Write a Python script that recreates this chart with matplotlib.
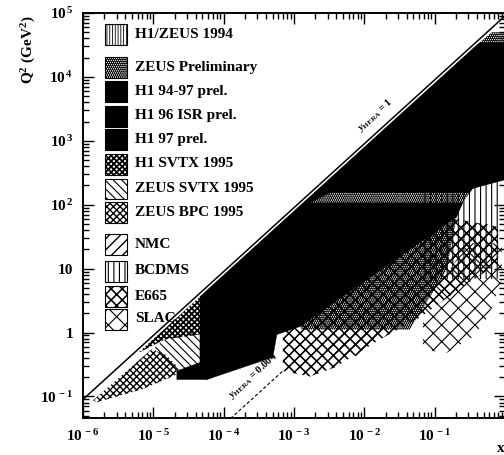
import matplotlib
matplotlib.use("Agg")
import matplotlib.pyplot as plt
from matplotlib.patches import Rectangle
from matplotlib.ticker import FixedLocator, FixedFormatter, LogLocator, NullFormatter

plt.rcParams.update({
    "font.family": ["Liberation Serif", "DejaVu Serif"],
    "font.weight": "bold",
    "mathtext.fontset": "custom",
    "mathtext.rm": "Liberation Serif:bold",
    "mathtext.bf": "Liberation Serif:bold",
    "mathtext.it": "Liberation Serif:italic:bold",
    "hatch.color": "black",
})

# HERA kinematics: Q^2 = s * x * y
S_EP = 9.0e4
Y_KIN = 1.0
Y_LOW = 0.004

X_LIM = (1e-6, 1.0)
Q2_LIM = (0.046, 1e5)

# measured regions of the (x, Q^2) plane, polygon vertices
H1_94_97_X = [1.94e-3, 0.429, 1.0, 1.0, 0.347, 0.314]
H1_94_97_Q2 = [154, 34000, 34000, 246, 180, 154]

H1_97_X = [4.6e-5, 1.94e-3, 3.23e-3, 1.68e-3, 0.25, 0.205, 1.21e-3, 5.7e-4, 5.0e-4, 5.77e-5, 4.6e-5]
H1_97_Q2 = [3.64, 154, 154, 107, 107, 65, 1.24, 0.93, 0.41, 0.184, 0.34]

H1_96_ISR_X = [2.16e-5, 5.77e-5, 1.2e-4, 4.6e-5, 2.16e-5]
H1_96_ISR_Q2 = [0.184, 0.184, 0.26, 0.34, 0.25]

ZEUS_PREL_X = [5e-5, 0.429, 0.65, 1.0, 1.0, 0.347, 0.25, 0.205, 0.148, 0.044, 1.3e-3, 1.21e-3]
ZEUS_PREL_Q2 = [3.96, 34000, 50000, 50000, 250, 180, 107, 65, 9.6, 1.11, 1.11, 1.24]

H1ZEUS_94_X = [3.0e-3, 0.09, 0.25, 0.25]
H1ZEUS_94_Q2 = [190, 5000, 5000, 220]

H1_SVTX_X = [6.0e-6, 4.6e-5, 4.6e-5, 1.46e-5]
H1_SVTX_Q2 = [0.475, 3.64, 0.93, 0.78]

ZEUS_SVTX_X = [9.55e-6, 1.46e-5, 4.6e-5, 4.6e-5, 2.16e-5, 1.46e-5]
ZEUS_SVTX_Q2 = [0.54, 0.78, 1.11, 0.32, 0.25, 0.38]

ZEUS_BPC_X = [1.39e-6, 9.5e-6, 1.5e-5, 2.16e-5, 2.16e-5, 7e-6, 1.58e-6]
ZEUS_BPC_Q2 = [0.087, 0.55, 0.45, 0.30, 0.22, 0.13, 0.081]

NMC_X = [2.8e-3, 8.6e-3, 0.085, 0.6, 0.6, 2.8e-3]
NMC_Q2 = [0.5, 0.42, 3.3, 20, 50, 50]

BCDMS_X = [0.07, 0.85, 0.85, 0.07]
BCDMS_Q2 = [7, 7, 260, 260]

E665_X = [6.94e-4, 1.68e-3, 3.8e-3, 0.0166, 0.0612, 0.3, 0.8, 0.8, 0.2, 6.94e-4]
E665_Q2 = [0.25, 0.205, 0.284, 0.778, 1.71, 6, 12, 45, 60, 60]

SLAC_X = [0.068, 0.148, 0.35, 0.6, 0.9, 0.9, 0.3, 0.068]
SLAC_Q2 = [0.54, 0.48, 0.86, 1.9, 6.7, 25, 25, 2.5]

X_TICKS = [1e-6, 1e-5, 1e-4, 1e-3, 1e-2, 1e-1]
X_TICK_LABELS = [r"$10^{\,-6}$", r"$10^{\,-5}$", r"$10^{\,-4}$",
                 r"$10^{\,-3}$", r"$10^{\,-2}$", r"$10^{\,-1}$"]
Y_TICKS = [1e-1, 1, 10, 1e2, 1e3, 1e4, 1e5]
Y_TICK_LABELS = [r"$10^{\,-1}$", "1", "10", r"$10^{\,2}$", r"$10^{\,3}$",
                 r"$10^{\,4}$", r"$10^{\,5}$"]

# name, x, Q2, hatch, hatch line width, solid fill
REGIONS = [
    ("H1/ZEUS 1994", H1ZEUS_94_X, H1ZEUS_94_Q2, "||||||", 0.6, False),
    ("ZEUS Preliminary", ZEUS_PREL_X, ZEUS_PREL_Q2, "........", 1.5, False),
    ("H1 94-97 prel.", H1_94_97_X, H1_94_97_Q2, None, 0, True),
    ("H1 96 ISR prel.", H1_96_ISR_X, H1_96_ISR_Q2, None, 0, True),
    ("H1 97 prel.", H1_97_X, H1_97_Q2, None, 0, True),
    ("H1 SVTX 1995", H1_SVTX_X, H1_SVTX_Q2, "xxxxxx", 1.3, False),
    ("ZEUS SVTX 1995", ZEUS_SVTX_X, ZEUS_SVTX_Q2, "\\\\\\\\", 0.8, False),
    ("ZEUS BPC 1995", ZEUS_BPC_X, ZEUS_BPC_Q2, "xxxxx", 1.0, False),
    ("NMC", NMC_X, NMC_Q2, "///", 1.0, False),
    ("BCDMS", BCDMS_X, BCDMS_Q2, "|||", 0.8, False),
    ("E665", E665_X, E665_Q2, "xxx", 1.15, False),
    ("SLAC", SLAC_X, SLAC_Q2, "xx", 0.8, False),
]

W, H = 504, 455
fig = plt.figure(figsize=(W / 100, H / 100), dpi=100)
AX_L, AX_R, AX_T, AX_B = 83, 505, 13, 418
ax = fig.add_axes([AX_L / W, 1 - AX_B / H, (AX_R - AX_L) / W, (AX_B - AX_T) / H])
ax.set_xscale("log")
ax.set_yscale("log")
ax.set_xlim(*X_LIM)
ax.set_ylim(*Q2_LIM)


def make_patch_style(artist, hatch, lw):
    if hatch:
        artist.set_hatch(hatch)
        if hasattr(artist, "set_hatch_linewidth"):
            artist.set_hatch_linewidth(lw)


for name, xs, qs, hatch, hlw, solid in REGIONS:
    if solid:
        ax.fill(xs, qs, facecolor="black", edgecolor="black", lw=0.3, zorder=4)
    else:
        with plt.rc_context({"hatch.linewidth": hlw}):
            poly = ax.fill(xs, qs, facecolor="none", edgecolor="black", lw=0, zorder=3)[0]
            make_patch_style(poly, hatch, hlw)

# kinematic limit y = 1
kin_x = list(X_LIM)
ax.plot(kin_x, [S_EP * Y_KIN * x for x in kin_x], color="black", lw=1.1, zorder=5)
ax.text(9.5e-3, 1250, r"$\mathit{y}_{\mathrm{HERA}}$ = 1", rotation=42.3,
        rotation_mode="anchor", ha="left", va="bottom", fontsize=7.5, zorder=6)

# low-y line
low_x = [1.25e-4, 7.0e-4]
ax.plot(low_x, [S_EP * Y_LOW * x for x in low_x], color="black", lw=0.8,
        ls=(0, (3, 2)), zorder=1)
ax.text(1.4e-4, 0.082, r"$\mathit{y}_{\mathrm{HERA}}$ = 0.004", rotation=42.3,
        rotation_mode="anchor", ha="left", va="bottom", fontsize=7.5, zorder=1)

# axes styling
for sp in ax.spines.values():
    sp.set_linewidth(1.4)
ax.xaxis.set_major_locator(FixedLocator(X_TICKS))
ax.xaxis.set_major_formatter(FixedFormatter(X_TICK_LABELS))
ax.yaxis.set_major_locator(FixedLocator(Y_TICKS))
ax.yaxis.set_major_formatter(FixedFormatter(Y_TICK_LABELS))
ax.xaxis.set_minor_locator(LogLocator(base=10, subs=range(2, 10), numticks=20))
ax.yaxis.set_minor_locator(LogLocator(base=10, subs=range(2, 10), numticks=20))
ax.xaxis.set_minor_formatter(NullFormatter())
ax.yaxis.set_minor_formatter(NullFormatter())
ax.tick_params(which="both", direction="in", top=True, right=True, width=1.0,
               labelsize=11)
ax.tick_params(which="major", length=8, pad=7)
ax.tick_params(which="minor", length=4)

fig.text(29 / W, 1 - 50 / H, r"$\mathrm{Q}^{2}$ (GeV$^{2}$)", rotation=90,
         ha="center", va="center", fontsize=11)
fig.text(497 / W, 1 - 448 / H, "x", ha="left", va="center", fontsize=11)

# legend
LEG_ROWS_PX = [34, 67, 91, 116, 139, 164, 189, 213, 245, 271, 296, 319]
box_w, box_h = 22, 21
for (name, xs, qs, hatch, hlw, solid), cy in zip(REGIONS, LEG_ROWS_PX):
    x0 = (105 - AX_L) / (AX_R - AX_L)
    y0 = (AX_B - cy - box_h / 2) / (AX_B - AX_T)
    with plt.rc_context({"hatch.linewidth": hlw if hlw else 1.0}):
        r = Rectangle((x0, y0), box_w / (AX_R - AX_L), box_h / (AX_B - AX_T),
                      transform=ax.transAxes, facecolor="black" if solid else "white",
                      edgecolor="black", lw=0.8, zorder=7)
        make_patch_style(r, hatch, hlw)
        ax.add_patch(r)
    ax.text((135 - AX_L) / (AX_R - AX_L), (AX_B - cy) / (AX_B - AX_T), name,
            transform=ax.transAxes, ha="left", va="center", fontsize=11, zorder=7)

fig.savefig("out.png", dpi=100)
